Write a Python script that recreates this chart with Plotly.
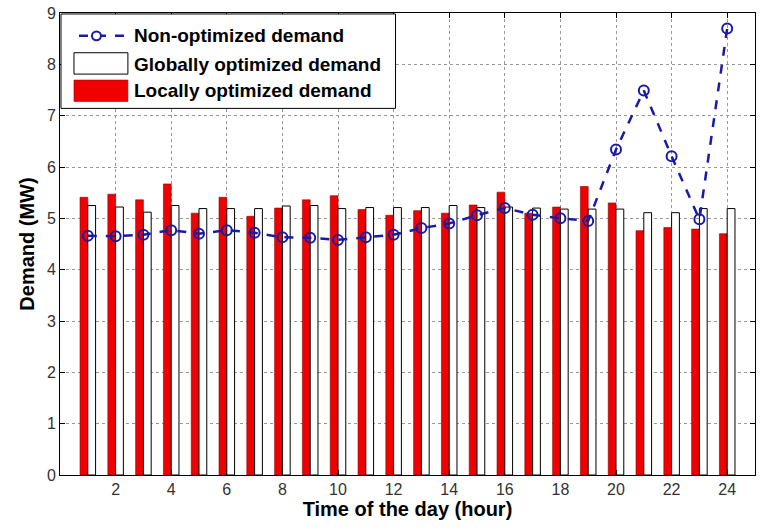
import plotly.graph_objects as go

# Hour of the day
hours = list(range(1, 25))

# Demand profiles (MW)
non_optimized = [4.66, 4.65, 4.68, 4.77, 4.70, 4.77, 4.72, 4.63, 4.62, 4.58, 4.63, 4.68,
                 4.81, 4.90, 5.06, 5.20, 5.07, 5.00, 4.95, 6.34, 7.49, 6.21, 4.98, 8.70]
globally_optimized = [5.25, 5.22, 5.12, 5.25, 5.19, 5.19, 5.19, 5.24, 5.25, 5.19, 5.21, 5.21,
                      5.21, 5.25, 5.21, 5.22, 5.20, 5.18, 5.18, 5.18, 5.11, 5.11, 5.19, 5.19]
locally_optimized = [5.41, 5.47, 5.36, 5.67, 5.10, 5.41, 5.04, 5.20, 5.36, 5.44, 5.17, 5.06,
                     5.15, 5.10, 5.26, 5.51, 5.10, 5.22, 5.62, 5.30, 4.76, 4.82, 4.79, 4.70]

x_ticks = list(range(2, 25, 2))
y_ticks = list(range(0, 10))

legend_labels = ["Non-optimized demand", "Globally optimized demand", "Locally optimized demand"]

W, H = 761, 531
ML, MR, MT, MB = 60, 5, 10, 56
PW, PH = W - ML - MR, H - MT - MB


def px(x):
    return (x - ML) / PW


def py(y):
    return (H - MB - y) / PH


RED = "#f00000"
BLUE = "#1a1aa8"
FONT = "Liberation Sans, Arial, sans-serif"

fig = go.Figure()

fig.add_trace(go.Bar(
    x=hours, y=locally_optimized, name=legend_labels[2],
    marker=dict(color=RED, line=dict(color="#8a0000", width=0.6)),
    showlegend=False,
))
fig.add_trace(go.Bar(
    x=hours, y=globally_optimized, name=legend_labels[1],
    marker=dict(color="white", line=dict(color="black", width=1)),
    showlegend=False,
))
fig.add_trace(go.Scatter(
    x=hours, y=non_optimized, name=legend_labels[0], mode="lines+markers",
    line=dict(color=BLUE, width=2.5, dash="dash"),
    marker=dict(symbol="circle-open", size=10, color=BLUE, line=dict(width=2)),
    showlegend=False,
))

shapes = []
annotations = []

# Legend box
shapes.append(dict(type="rect", xref="paper", yref="paper",
                   x0=px(61), x1=px(396), y0=py(106), y1=py(11),
                   line=dict(color="black", width=1), fillcolor="white", layer="above"))
# Line sample
shapes.append(dict(type="line", xref="paper", yref="paper",
                   x0=px(79), x1=px(131), y0=py(33), y1=py(33),
                   line=dict(color=BLUE, width=2.5, dash="dash"), layer="above"))
shapes.append(dict(type="circle", xref="paper", yref="paper",
                   x0=px(92), x1=px(101), y0=py(37.5), y1=py(28.5),
                   line=dict(color=BLUE, width=2), fillcolor="white", layer="above"))
# Bar samples
shapes.append(dict(type="rect", xref="paper", yref="paper",
                   x0=px(74), x1=px(128), y0=py(71.5), y1=py(50),
                   line=dict(color="black", width=1), fillcolor="white", layer="above"))
shapes.append(dict(type="rect", xref="paper", yref="paper",
                   x0=px(74), x1=px(128), y0=py(99), y1=py(77.5),
                   line=dict(color="#b00000", width=0.6), fillcolor=RED, layer="above"))

for label, yc in zip(legend_labels, [33, 62, 88]):
    annotations.append(dict(xref="paper", yref="paper", x=px(132), y=py(yc),
                            xanchor="left", yanchor="middle", showarrow=False,
                            text="<b>%s</b>" % label,
                            font=dict(family=FONT, size=19, color="black")))

fig.update_layout(
    width=W, height=H,
    margin=dict(l=ML, r=MR, t=MT, b=MB),
    paper_bgcolor="white", plot_bgcolor="white",
    barmode="group", bargap=0.44, bargroupgap=0,
    shapes=shapes, annotations=annotations,
    font=dict(family=FONT, size=16, color="#333"),
    xaxis=dict(
        range=[0, 25], tickvals=x_ticks, ticks="inside", ticklen=5, tickcolor="black",
        showline=True, linecolor="black", linewidth=1, mirror="ticks",
        showgrid=True, gridcolor="#999", griddash="dot", gridwidth=1, zeroline=False,
        title=dict(text="<b>Time of the day (hour)</b>", font=dict(size=20, color="black"), standoff=2),
        tickfont=dict(size=16, color="#333"),
    ),
    yaxis=dict(
        range=[0, 9], tickvals=y_ticks, ticks="inside", ticklen=5, tickcolor="black",
        showline=True, linecolor="black", linewidth=1, mirror="ticks",
        showgrid=True, gridcolor="#999", griddash="dot", gridwidth=1, zeroline=False,
        title=dict(text="<b>Demand (MW)</b>", font=dict(size=20, color="black"), standoff=6),
        tickfont=dict(size=16, color="#333"),
    ),
)

fig.write_html("out.html")
